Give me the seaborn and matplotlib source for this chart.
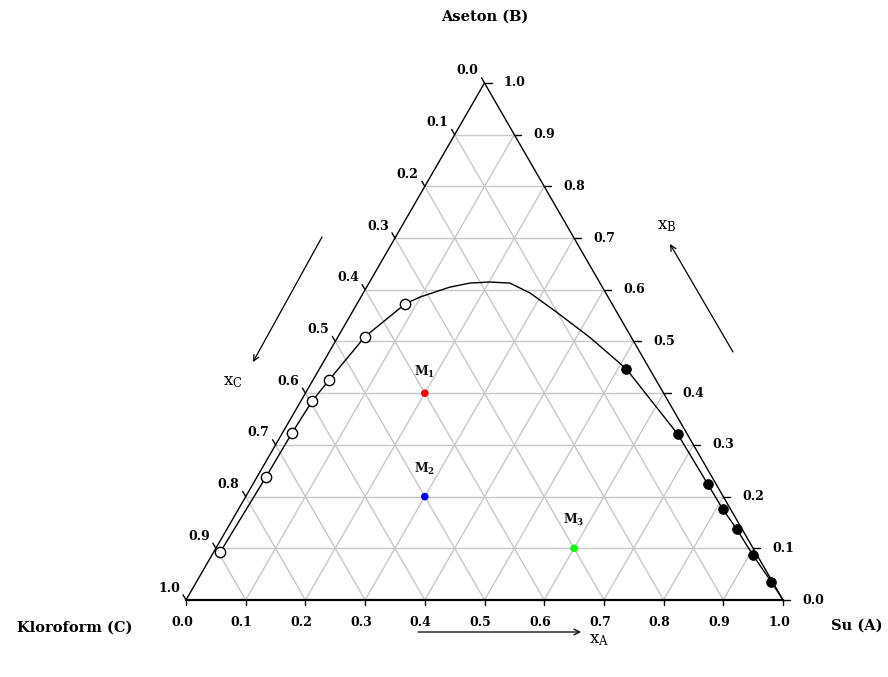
import numpy as np
import pandas as pd
import matplotlib
matplotlib.use("Agg")
import matplotlib.pyplot as plt
import seaborn as sns

# ---------------- data (mole fractions xA = Su, xB = Aseton) ----------------
raff_A = [0.011, 0.015, 0.016, 0.019, 0.027, 0.045, 0.081]
raff_B = [0.093, 0.238, 0.323, 0.385, 0.426, 0.509, 0.573]
top_A = [0.099, 0.139, 0.169, 0.201, 0.236, 0.279, 0.342, 0.424]
top_B = [0.586, 0.605, 0.613, 0.615, 0.613, 0.594, 0.557, 0.507]
ext_A = [0.514, 0.663, 0.762, 0.811, 0.854, 0.906, 0.963]
ext_B = [0.447, 0.321, 0.224, 0.176, 0.137, 0.087, 0.035]
end_A = [1.0]
end_B = [0.0]
mix_A = [0.2, 0.3, 0.6]
mix_B = [0.4, 0.2, 0.1]
mix_labels = [r"$\mathbf{M_1}$", r"$\mathbf{M_2}$", r"$\mathbf{M_3}$"]
mix_colors = ["#ff0000", "#0000ff", "#00ff00"]
ticks = [i / 10 for i in range(11)]
tick_labels = [f"{t:.1f}" for t in ticks]
vertex_labels = ["Su (A)", "Aseton (B)", "Kloroform (C)"]

S3 = np.sqrt(3) / 2


def tern(a, b):
    a = np.asarray(a, float)
    b = np.asarray(b, float)
    return a + b / 2, b * S3


sns.set_style("white")
plt.rcParams["font.family"] = ["DejaVu Serif", "DejaVu Sans"]
plt.rcParams["mathtext.fontset"] = "dejavuserif"
plt.rcParams["text.color"] = "black"

fig = plt.figure(figsize=(8.88, 6.77), dpi=100)
ax = fig.add_axes([0, 0, 1, 1])
PX = 597.0
ax.set_xlim(-186 / PX, (888 - 186) / PX)
ax.set_ylim(-77 / PX, 600 / PX)
ax.axis("off")

PT = 0.72  # points per pixel

# grid lines
gc = "#c8c8c8"
for k in ticks[1:-1]:
    x, y = tern([0, 1 - k], [k, k])
    ax.plot(x, y, color=gc, lw=1, zorder=1)
    x, y = tern([k, k], [0, 1 - k])
    ax.plot(x, y, color=gc, lw=1, zorder=1)
    x, y = tern([1 - k, 0], [0, 1 - k])
    ax.plot(x, y, color=gc, lw=1, zorder=1)

# triangle edges
x, y = tern([0, 1], [0, 0])
ax.plot(x, y, color="black", lw=1.6, zorder=2)
x, y = tern([1, 0], [0, 1])
ax.plot(x, y, color="black", lw=1.0, zorder=2)
x, y = tern([0, 0], [1, 0])
ax.plot(x, y, color="black", lw=1.0, zorder=2)

# ticks and tick labels
tl = 7 / PX
for t, lab in zip(ticks, tick_labels):
    # bottom (xA)
    bx, by = tern(t, 0)
    ax.plot([bx, bx], [by, by - 5 / PX], color="black", lw=1, zorder=2)
    ax.annotate(lab, (bx, by), xytext=(-4 * PT, -23 * PT), textcoords="offset points",
                ha="center", va="center", fontsize=9, fontweight="bold")
    # right (xB)
    rx, ry = tern(1 - t, t)
    ax.plot([rx, rx + tl], [ry, ry], color="black", lw=1, zorder=2)
    ax.annotate(lab, (rx, ry), xytext=(30 * PT, 0), textcoords="offset points",
                ha="center", va="center", fontsize=9, fontweight="bold")
    # left (xC): xC = t -> xB = 1 - t
    lx, ly = tern(0, 1 - t)
    ax.plot([lx, lx - 0.5 * 6 / PX], [ly, ly + S3 * 6 / PX], color="black", lw=1, zorder=2)
    ax.annotate(lab, (lx, ly), xytext=(-17 * PT, 12 * PT), textcoords="offset points",
                ha="center", va="center", fontsize=9, fontweight="bold")

# binodal curve
curve_A = raff_A + top_A + ext_A + end_A
curve_B = raff_B + top_B + ext_B + end_B
cx, cy = tern(curve_A, curve_B)
curve_df = pd.DataFrame({"x": cx, "y": cy, "i": np.arange(len(cx))})
sns.lineplot(data=curve_df, x="x", y="y", sort=False, estimator=None,
             color="black", lw=1.0, ax=ax, zorder=3)

# raffinate (open) and extract (filled) points
rx, ry = tern(raff_A, raff_B)
sns.scatterplot(x=rx, y=ry, ax=ax, s=55, facecolor="white", edgecolor="black",
                linewidth=1.0, zorder=4)
ex, ey = tern(ext_A, ext_B)
sns.scatterplot(x=ex, y=ey, ax=ax, s=50, color="black", edgecolor="black",
                linewidth=0.5, zorder=4)

# mixture points
mx, my = tern(mix_A, mix_B)
mix_df = pd.DataFrame({"x": mx, "y": my, "lab": mix_labels})
sns.scatterplot(data=mix_df, x="x", y="y", hue="lab", palette=mix_colors,
                s=30, edgecolor="none", marker="o", legend=False, ax=ax, zorder=5)
for xx, yy, lab, off in zip(mx, my, mix_labels, [21, 28, 28]):
    ax.annotate(lab, (xx, yy), xytext=(0, off * PT), textcoords="offset points",
                ha="center", va="center", fontsize=9, color="#111111")

# vertex labels
def P(px, py):
    return (px - 186) / PX, (600 - py) / PX

ax.text(*P(485, 17), vertex_labels[1], ha="center", va="center", fontsize=10.5, fontweight="bold")
ax.text(*P(75, 628), vertex_labels[2], ha="center", va="center", fontsize=10.5, fontweight="bold")
ax.text(*P(857, 626), vertex_labels[0], ha="center", va="center", fontsize=10.5, fontweight="bold")

# direction arrows
ap = dict(arrowstyle="->", color="black", lw=0.9, shrinkA=0, shrinkB=0)
ax.annotate("", xy=P(581, 632), xytext=P(418, 632), arrowprops=ap)
ax.annotate("", xy=P(253, 362), xytext=P(322, 237), arrowprops=ap)
ax.annotate("", xy=P(670, 244), xytext=P(733, 352), arrowprops=ap)
ax.text(*P(233, 381), r"x$_\mathrm{C}$", ha="center", va="center", fontsize=12)
ax.text(*P(667, 226), r"x$_\mathrm{B}$", ha="center", va="center", fontsize=12)
ax.text(*P(589, 640), r"x$_\mathrm{A}$", ha="left", va="center", fontsize=12)

fig.savefig("out.png", dpi=100)
